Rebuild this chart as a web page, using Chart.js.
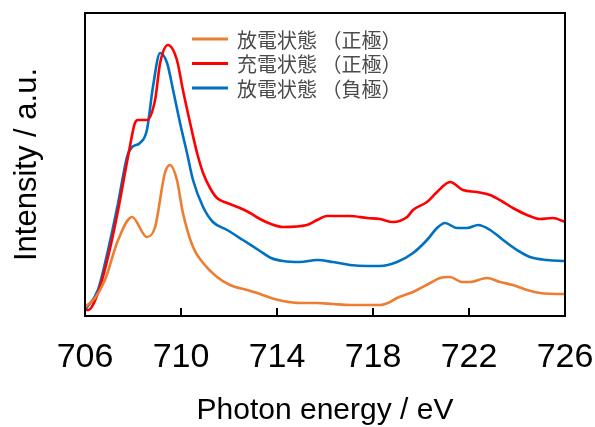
<!DOCTYPE html>
<html>
<head>
<meta charset="utf-8">
<script src="https://cdn.jsdelivr.net/npm/chart.js@4.4.1/dist/chart.umd.min.js"></script>
<style>
  html, body { margin: 0; padding: 0; background: #fff; }
  #wrap { width: 595px; height: 427px; }
</style>
</head>
<body>
<div id="wrap"><canvas id="xas" width="595" height="427"></canvas></div>
<script>
// 系列名
const seriesLabels = ['放電状態 （正極）', '充電状態 （正極）', '放電状態 （負極）'];
const seriesColors = ['#ED7D31', '#FF0000', '#0070C0'];

// 放電状態（正極）
const energyDisPos = [706.00, 706.42, 706.83, 707.38, 707.96, 708.58, 708.92, 709.33, 709.54, 709.83, 710.08, 710.50, 710.92, 711.50, 712.04, 712.75, 713.29, 713.75, 714.25, 714.96, 715.67, 716.33, 717.04, 717.75, 718.29, 718.71, 719.00, 719.67, 720.38, 720.79, 721.21, 721.71, 722.04, 722.75, 723.29, 723.83, 724.42, 724.96, 725.92, 726.00];
const intensityDisPos = [9, 18, 36, 76, 99, 79, 89, 143, 151, 136, 103, 69, 53, 39, 31, 26, 22, 18, 15, 13, 13, 12, 11, 11, 11, 14, 18, 24, 33, 38, 39, 34, 34, 38, 34, 31, 26, 23, 22, 22];

// 充電状態（正極）
const energyChgPos = [706.00, 706.13, 706.54, 706.96, 707.38, 707.79, 708.08, 708.21, 708.58, 708.92, 709.13, 709.46, 709.83, 710.08, 710.38, 710.67, 710.92, 711.21, 711.50, 711.92, 712.46, 712.88, 713.29, 713.75, 714.25, 715.25, 715.67, 716.08, 717.04, 717.75, 718.29, 718.83, 719.42, 719.67, 720.25, 720.67, 721.21, 721.75, 722.33, 722.88, 723.42, 723.83, 724.42, 724.96, 725.50, 726.00];
const intensityChgPos = [6, 6, 23, 59, 106, 159, 193, 196, 196, 216, 253, 271, 256, 226, 193, 163, 143, 128, 118, 113, 108, 103, 97, 92, 89, 91, 96, 100, 100, 98, 97, 94, 99, 106, 114, 124, 134, 126, 124, 121, 114, 108, 101, 97, 98, 94];

// 放電状態（負極）
const energyDisNeg = [706.00, 706.54, 706.96, 707.38, 707.75, 707.96, 708.29, 708.58, 708.83, 709.13, 709.42, 709.67, 709.96, 710.25, 710.50, 710.92, 711.33, 711.92, 712.58, 713.29, 713.75, 714.25, 714.96, 715.67, 716.33, 717.04, 717.75, 718.29, 719.00, 719.67, 720.25, 720.67, 721.00, 721.50, 721.92, 722.38, 722.88, 723.42, 724.00, 724.54, 725.25, 726.00];
const intensityDisNeg = [6, 26, 66, 113, 159, 169, 173, 186, 229, 263, 253, 226, 193, 163, 136, 109, 94, 86, 76, 65, 58, 55, 54, 56, 54, 51, 50, 50, 54, 63, 76, 88, 93, 88, 88, 91, 86, 76, 66, 59, 56, 55];

// 目盛
const xTicks = [706, 710, 714, 718, 722, 726];

function toPoints(xs, ys) {
  return xs.map((x, i) => ({ x: x, y: ys[i] }));
}

// 枠線と内向き目盛
const framePlugin = {
  id: 'frame',
  afterDraw(chart) {
    const ctx = chart.ctx;
    const a = chart.chartArea;
    const xs = chart.scales.x;
    ctx.save();
    ctx.strokeStyle = '#000';
    ctx.lineWidth = 2;
    ctx.strokeRect(a.left, a.top, a.right - a.left, a.bottom - a.top);
    xTicks.forEach(t => {
      const px = Math.round(xs.getPixelForValue(t));
      ctx.beginPath();
      ctx.moveTo(px, a.bottom);
      ctx.lineTo(px, a.bottom - 8);
      ctx.stroke();
    });
    ctx.restore();
  }
};

// 凡例（グラフ内）
const innerLegend = {
  id: 'innerLegend',
  afterDraw(chart) {
    const ctx = chart.ctx;
    ctx.save();
    ctx.font = '20px "Noto Sans CJK JP"';
    ctx.textBaseline = 'middle';
    chart.data.datasets.forEach((ds, i) => {
      const y = 39 + i * 24.5;
      ctx.strokeStyle = ds.borderColor;
      ctx.lineWidth = 3;
      ctx.beginPath();
      ctx.moveTo(192, y);
      ctx.lineTo(228, y);
      ctx.stroke();
      ctx.fillStyle = '#4a4a4a';
      ctx.fillText(ds.label, 237, y + 1);
    });
    ctx.restore();
  }
};

const ctx = document.getElementById('xas');
new Chart(ctx, {
  type: 'line',
  data: {
    datasets: [
      { label: seriesLabels[0], data: toPoints(energyDisPos, intensityDisPos), borderColor: seriesColors[0] },
      { label: seriesLabels[1], data: toPoints(energyChgPos, intensityChgPos), borderColor: seriesColors[1] },
      { label: seriesLabels[2], data: toPoints(energyDisNeg, intensityDisNeg), borderColor: seriesColors[2] }
    ]
  },
  options: {
    responsive: false,
    animation: false,
    layout: { padding: { top: 13, right: 30, left: 0, bottom: 0 } },
    elements: {
      point: { radius: 0 },
      line: { borderWidth: 2.6, cubicInterpolationMode: 'monotone', fill: false }
    },
    plugins: {
      legend: { display: false },
      tooltip: { enabled: false }
    },
    scales: {
      x: {
        type: 'linear',
        min: 706,
        max: 726,
        afterFit: s => { s.height = 111; s.paddingLeft = 0; s.paddingRight = 0; },
        afterBuildTicks: s => { s.ticks = xTicks.map(v => ({ value: v })); },
        grid: { display: false, drawTicks: false },
        border: { display: false },
        ticks: {
          padding: 21,
          color: '#000',
          font: { family: '"Liberation Sans", Arial', size: 34 }
        },
        title: {
          display: true,
          text: 'Photon energy / eV',
          color: '#000',
          padding: { top: 0, bottom: -2 },
          font: { family: '"Liberation Sans", Arial', size: 30 }
        }
      },
      y: {
        min: 0,
        max: 303,
        afterFit: s => { s.width = 85; },
        grid: { display: false, drawTicks: false },
        border: { display: false },
        ticks: { display: false },
        title: {
          display: true,
          text: 'Intensity / a.u.',
          color: '#000',
          padding: { top: 9, bottom: 0 },
          font: { family: '"Liberation Sans", Arial', size: 31 }
        }
      }
    }
  },
  plugins: [framePlugin, innerLegend]
});
</script>
</body>
</html>
